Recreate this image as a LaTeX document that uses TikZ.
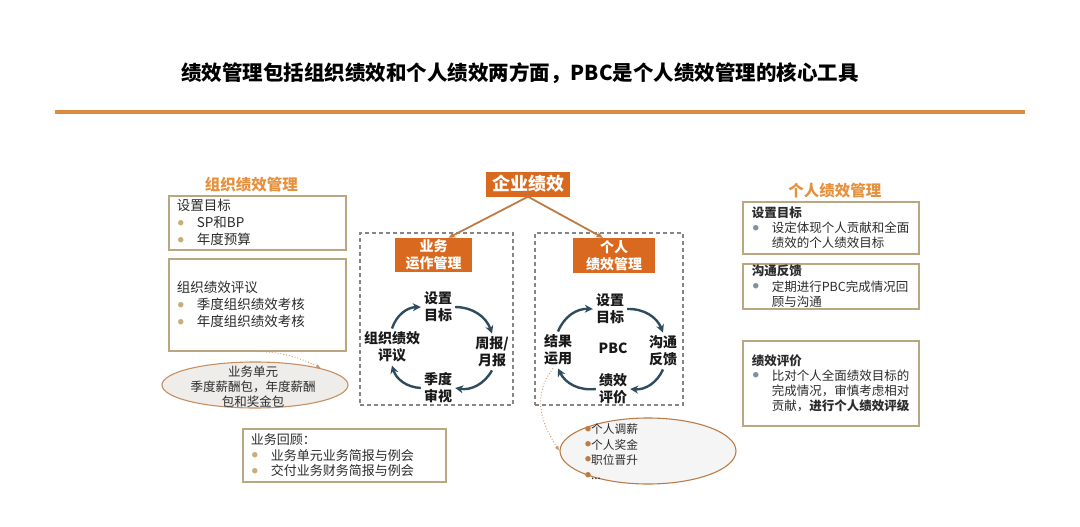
\documentclass[tikz,border=0pt]{standalone}
\usepackage{fontspec}
\setmainfont{Noto Sans CJK SC}
\usetikzlibrary{positioning,arrows.meta,shapes.geometric,backgrounds}
\definecolor{naranja}{HTML}{D9691E}
\definecolor{titulo}{HTML}{E5913D}
\definecolor{raya}{HTML}{DC8A3E}
\definecolor{borde}{HTML}{BBA682}
\definecolor{gris}{HTML}{858585}
\definecolor{pizarra}{HTML}{2F4B5E}
\definecolor{linea}{HTML}{A19681}
\definecolor{texto}{HTML}{2B2B2B}
\definecolor{punto}{HTML}{C9AD78}
\definecolor{puntoazul}{HTML}{7D90A5}
\definecolor{cafe}{HTML}{BC7C48}
\definecolor{ovalo}{HTML}{EFEDEA}
\newcommand{\gordo}[1]{\textcolor{#1}{\raisebox{2.6pt}{\fontsize{6pt}{6pt}\selectfont ●}}}
\newcommand{\bul}[1]{\makebox[20pt][l]{\hspace*{1pt}\gordo{#1}}}

\begin{document}
\begin{tikzpicture}[x=1pt, y=-1pt, >={Stealth[length=8pt,width=8pt]},
      every node/.style={text=texto},
      caja/.style={draw=borde, line width=1.6pt, fill=white, align=left, inner ysep=1pt, anchor=north west},
      izq/.style={caja, inner xsep=8pt, text width=161pt, font=\fontsize{13.5pt}{17pt}\selectfont},
      der/.style={caja, inner xsep=9pt, text width=158pt, font=\fontsize{12.5pt}{15.3pt}\selectfont},
      hd/.style={text=titulo, font=\bfseries\fontsize{15.5pt}{18pt}\selectfont, inner sep=0pt},
      jefe/.style={fill=naranja, text=white, font=\bfseries\fontsize{14pt}{16.5pt}\selectfont, align=center, inner sep=1pt},
      paso/.style={text=black!90, font=\bfseries\fontsize{14pt}{17pt}\selectfont, align=center, inner sep=3pt},
      ciclo/.style={->, pizarra, line width=2.4pt},
      conector/.style={draw=linea, line width=1.1pt},
      flecha/.style={-{Stealth[length=7pt,width=6pt]}, draw=cafe, line width=1.8pt},
      puntos/.style={-{Latex[length=5pt,width=4pt]}, draw=cafe!80, dotted, line width=0.9pt},
      marcod/.style={draw=gris, line width=1.1pt, dash pattern=on 4pt off 3pt, minimum height=172pt},
      elipse/.style={ellipse, draw=cafe!85, line width=1.1pt, fill=ovalo}]
    \useasboundingbox[fill=white] (0,0) rectangle (1080,527);

    \node[font=\bfseries\fontsize{20.5pt}{24pt}\selectfont, text=black] (tit) at (520,73) {绩效管理包括组织绩效和个人绩效两方面，PBC是个人绩效管理的核心工具};
    \draw[raya, line width=3.5pt] (55,112) -- (1025,112);

    \node[izq, minimum height=54pt] (lb1) at (168,195) {设置目标\\\bul{punto}SP和BP\\\bul{punto}年度预算};
    \node[izq, minimum height=92pt] (lb2) at (168,258) {组织绩效评议\\\bul{punto}季度组织绩效考核\\\bul{punto}年度组织绩效考核};
    \node[hd, above=3pt of lb1, xshift=-6pt] (lh) {组织绩效管理};
    \node[elipse, minimum width=186pt, minimum height=46pt] (lell) at (255,385) {};
    \node[align=center, inner sep=0pt, font=\fontsize{12.5pt}{15pt}\selectfont] (lelltxt) at (253,387) {业务单元\\季度薪酬包，年度薪酬\\包和奖金包};
    \node[caja, inner xsep=8pt, text width=187pt, minimum height=53pt, font=\fontsize{13pt}{15.5pt}\selectfont] (lbr) at (242,428) {业务回顾：\\\bul{punto}业务单元业务简报与例会\\\bul{punto}交付业务财务简报与例会};

    \node[marcod, minimum width=153pt] (lmarco) at (436.5,319) {};
    \node[marcod, minimum width=148pt] (rmarco) at (609,319) {};

    \node[jefe, minimum width=77pt, minimum height=34pt] (lo) at (433.5,255) {业务\\运作管理};
    \node[jefe, minimum width=82pt, minimum height=35pt] (ro) at (614,255.5) {个人\\绩效管理};
    \node[jefe, font=\bfseries\fontsize{18pt}{20pt}\selectfont, minimum width=84pt, minimum height=25pt] (qy) at (528,184) {企业绩效};

    \node[paso] (ls) at (438,307) {设置\\目标};
    \node[paso] (lz) at (492,352) {周报/\\月报};
    \node[paso] (lj) at (438,388) {季度\\审视};
    \node[paso] (lp) at (392,347) {组织绩效\\评议};

    \node[paso] (rs) at (610,309) {设置\\目标};
    \node[paso] (rg) at (663,351) {沟通\\反馈};
    \node[paso] (rp) at (613,389) {绩效\\评价};
    \node[paso] (ry) at (558,350) {结果\\运用};
    \node[paso] (pbc) at (613,348) {PBC};

    \node[der, minimum height=52pt] (rb1) at (742,201) {\textbf{设置目标}\\\bul{puntoazul}设定体现个人贡献和全面\\\hspace*{20pt}绩效的个人绩效目标};
    \node[der, minimum height=45pt] (rb2) at (742,263) {\textbf{沟通反馈}\\\bul{puntoazul}定期进行PBC完成情况回\\\hspace*{20pt}顾与沟通};
    \node[der, minimum height=85pt] (rb3) at (742,340) {\textbf{绩效评价}\\\bul{puntoazul}比对个人全面绩效目标的\\\hspace*{20pt}完成情况，审慎考虑相对\\\hspace*{20pt}贡献，\textbf{进行个人绩效评级}};
    \node[hd, above=3pt of rb1, xshift=4pt] (rh) {个人绩效管理};
    \node[elipse, draw=cafe, fill=black!4, minimum width=176pt, minimum height=66pt] (rell) at (648,451) {};
    \node[anchor=west, align=left, inner sep=0pt, font=\fontsize{11.7pt}{15.3pt}\selectfont] (rlista) at (585,452) {\gordo{cafe}个人调薪\\\gordo{cafe}个人奖金\\\gordo{cafe}职位晋升\\\gordo{cafe}...};

    \begin{scope}[on background layer]
      \draw[conector] ([yshift=-8pt]lb1.north east) -- ++(45,0) -- (ls.north west);
      \draw[conector] ([yshift=-8pt]lb2.north east) -- ++(20,0) -- ([xshift=-9pt]lp.north);
      \draw[conector] ([yshift=-8pt]lbr.north east) -- ++(18,0) -- ([xshift=-6pt]lz.south);
      \draw[conector] ([yshift=-7pt]rb1.north west) -- ++(-44,0) -- (rs.north east);
      \draw[conector] ([yshift=-7pt]rb2.north west) -- ++(-29,0) -- ([yshift=8pt]rg.north east);
      \draw[conector] ([yshift=-7pt]rb3.north west) -- ++(-47,0) -- ([xshift=6pt,yshift=-8pt]rp.east);
    \end{scope}

    \draw[flecha] (qy.south) -- ([xshift=15pt]lo.north);
    \draw[flecha] (qy.south) -- ([xshift=-11pt]ro.north);

    \draw[ciclo] (ls.east) to[bend left=35] (lz.north);
    \draw[ciclo] (lz.south) to[bend left=35] (lj.east);
    \draw[ciclo] (lj.west) to[bend left=35] (lp.south);
    \draw[ciclo] (lp.north) to[bend left=35] (ls.west);

    \draw[ciclo] (rs.east) to[bend left=35] (rg.north);
    \draw[ciclo] (rg.south) to[bend left=35] (rp.east);
    \draw[ciclo] (rp.west) to[bend left=35] (ry.south);
    \draw[ciclo] (ry.north) to[bend left=35] (rs.west);

    \draw[puntos] (lb2.south) .. controls +(25,0) and +(-20,-10) .. (lell.north east);
    \draw[puntos] ([xshift=-5pt]ry.south) .. controls +(-20,25) and +(-20,-30) .. (rell.west);
\end{tikzpicture}
\end{document}
